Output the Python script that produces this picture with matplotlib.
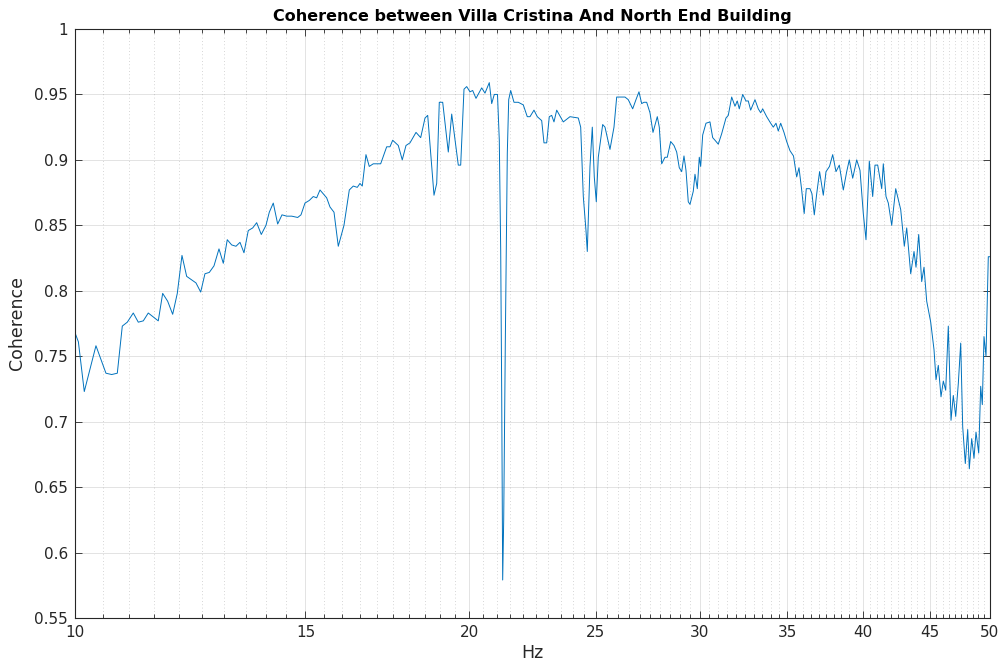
import numpy as np
import matplotlib
matplotlib.use("Agg")
import matplotlib.pyplot as plt
from matplotlib.ticker import FixedLocator, FixedFormatter, NullFormatter

# ---- data ----
freq_hz = [
    10.00, 10.06, 10.165, 10.376, 10.56, 10.667, 10.773, 10.868, 10.964, 11.08,
    11.178, 11.277, 11.376, 11.578, 11.668, 11.771, 11.875, 11.972, 12.071, 12.171,
    12.372, 12.475, 12.569, 12.665, 12.77, 12.883, 12.981, 13.072, 13.174, 13.274,
    13.368, 13.462, 13.564, 13.67, 13.766, 13.878, 13.993, 14.075, 14.174, 14.284,
    14.393, 14.512, 14.641, 14.796, 14.882, 14.987, 15.101, 15.207, 15.298, 15.388,
    15.57, 15.661, 15.772, 15.891, 16.051, 16.202, 16.316, 16.431, 16.509, 16.576,
    16.684, 16.781, 16.9, 17.121, 17.303, 17.404, 17.487, 17.66, 17.784, 17.901,
    18.027, 18.219, 18.37, 18.51, 18.598, 18.805, 18.895, 18.981, 19.095, 19.284,
    19.4, 19.626, 19.709, 19.824, 19.918, 20.034, 20.129, 20.247, 20.451, 20.57,
    20.726, 20.814, 20.909, 21.027, 21.094, 21.146, 21.183, 21.22, 21.258, 21.318,
    21.393, 21.446, 21.521, 21.646, 21.811, 22.003, 22.158, 22.264, 22.421, 22.552,
    22.727, 22.819, 22.928, 23.033, 23.13, 23.224, 23.335, 23.607, 23.887, 24.238,
    24.341, 24.453, 24.569, 24.625, 24.742, 24.843, 24.93, 25.018, 25.106, 25.301,
    25.404, 25.628, 25.809, 25.932, 26.115, 26.313, 26.466, 26.672, 26.827, 26.969,
    27.097, 27.207, 27.337, 27.496, 27.642, 27.852, 27.95, 28.068, 28.231, 28.346,
    28.516, 28.682, 28.818, 28.95, 29.073, 29.191, 29.294, 29.412, 29.501, 29.672,
    29.761, 29.882, 29.987, 30.061, 30.167, 30.343, 30.557, 30.702, 30.827, 31.006,
    31.192, 31.429, 31.556, 31.746, 31.93, 32.06, 32.173, 32.366, 32.554, 32.686,
    32.824, 33.074, 33.266, 33.407, 33.525, 33.762, 34.0, 34.156, 34.319, 34.458,
    34.604, 34.805, 34.971, 35.175, 35.392, 35.592, 35.736, 35.906, 36.064, 36.198,
    36.434, 36.563, 36.711, 36.866, 37.055, 37.297, 37.474, 37.706, 37.919, 38.14,
    38.362, 38.633, 38.865, 39.043, 39.277, 39.555, 39.785, 40.016, 40.207, 40.441,
    40.683, 40.848, 41.043, 41.333, 41.449, 41.647, 41.816, 42.067, 42.364, 42.738,
    43.01, 43.192, 43.497, 43.75, 43.904, 44.113, 44.346, 44.526, 44.738, 45.054,
    45.316, 45.476, 45.66, 45.878, 46.064, 46.258, 46.47, 46.692, 46.881, 47.079,
    47.295, 47.495, 47.662, 47.881, 48.083, 48.219, 48.423, 48.619, 48.79, 49.023,
    49.195, 49.334, 49.482, 49.656, 49.857, 50.0,
]
coherence = [
    0.768, 0.761, 0.723, 0.758, 0.737, 0.736, 0.737, 0.773, 0.776, 0.783,
    0.776, 0.777, 0.783, 0.777, 0.798, 0.792, 0.782, 0.798, 0.827, 0.811,
    0.806, 0.799, 0.813, 0.814, 0.819, 0.832, 0.821, 0.839, 0.835, 0.834,
    0.837, 0.829, 0.846, 0.848, 0.852, 0.843, 0.850, 0.860, 0.867, 0.851,
    0.858, 0.857, 0.857, 0.856, 0.858, 0.867, 0.869, 0.872, 0.871, 0.877,
    0.871, 0.864, 0.860, 0.834, 0.850, 0.877, 0.880, 0.879, 0.882, 0.880,
    0.904, 0.895, 0.897, 0.897, 0.910, 0.910, 0.915, 0.911, 0.900, 0.911,
    0.913, 0.921, 0.917, 0.932, 0.934, 0.873, 0.882, 0.944, 0.944, 0.906,
    0.935, 0.896, 0.896, 0.954, 0.956, 0.952, 0.953, 0.947, 0.955, 0.951,
    0.959, 0.943, 0.950, 0.950, 0.915, 0.831, 0.722, 0.579, 0.625, 0.760,
    0.905, 0.946, 0.953, 0.944, 0.944, 0.942, 0.933, 0.933, 0.938, 0.933,
    0.930, 0.913, 0.913, 0.933, 0.934, 0.929, 0.938, 0.929, 0.933, 0.932,
    0.925, 0.872, 0.846, 0.830, 0.895, 0.925, 0.887, 0.868, 0.902, 0.927,
    0.925, 0.908, 0.925, 0.948, 0.948, 0.948, 0.946, 0.939, 0.946, 0.952,
    0.943, 0.944, 0.944, 0.936, 0.921, 0.933, 0.925, 0.897, 0.902, 0.902,
    0.914, 0.911, 0.906, 0.894, 0.891, 0.903, 0.892, 0.868, 0.866, 0.876,
    0.889, 0.878, 0.902, 0.895, 0.919, 0.928, 0.929, 0.917, 0.915, 0.912,
    0.920, 0.932, 0.934, 0.948, 0.941, 0.945, 0.939, 0.950, 0.945, 0.945,
    0.938, 0.946, 0.939, 0.936, 0.939, 0.933, 0.928, 0.925, 0.928, 0.922,
    0.928, 0.921, 0.914, 0.907, 0.903, 0.887, 0.894, 0.877, 0.859, 0.878,
    0.878, 0.874, 0.858, 0.874, 0.891, 0.873, 0.891, 0.895, 0.904, 0.891,
    0.896, 0.877, 0.891, 0.900, 0.886, 0.900, 0.892, 0.859, 0.839, 0.899,
    0.872, 0.896, 0.896, 0.878, 0.897, 0.872, 0.867, 0.850, 0.878, 0.862,
    0.834, 0.848, 0.813, 0.830, 0.818, 0.843, 0.807, 0.818, 0.792, 0.776,
    0.755, 0.732, 0.743, 0.719, 0.731, 0.724, 0.773, 0.701, 0.720, 0.704,
    0.729, 0.760, 0.696, 0.668, 0.694, 0.664, 0.687, 0.672, 0.692, 0.676,
    0.727, 0.713, 0.765, 0.750, 0.826, 0.826,
]
x_major_ticks = [10, 15, 20, 25, 30, 35, 40, 45, 50]
x_tick_labels = ["10", "15", "20", "25", "30", "35", "40", "45", "50"]
y_major_ticks = [0.55, 0.6, 0.65, 0.7, 0.75, 0.8, 0.85, 0.9, 0.95, 1.0]
y_tick_labels = ["0.55", "0.6", "0.65", "0.7", "0.75", "0.8", "0.85", "0.9", "0.95", "1"]
title_text = "Coherence between Villa Cristina And North End Building"
x_label = "Hz"
y_label = "Coherence"

# ---- figure ----
plt.rcParams['font.family'] = ['DejaVu Sans']
fig = plt.figure(figsize=(10.05, 6.68), dpi=100)
ax = fig.add_axes([0.0746, 0.0749, 0.9104, 0.8817])

axis_col = "#262626"
ax.plot(freq_hz, coherence, color="#0072BD", lw=0.7)

ax.set_xscale("log")
ax.set_xlim(10, 50)
ax.set_ylim(0.55, 1.0)

ax.xaxis.set_major_locator(FixedLocator(x_major_ticks))
ax.xaxis.set_major_formatter(FixedFormatter(x_tick_labels))
minor = [v for v in np.arange(10, 50.001, 0.5) if v not in x_major_ticks]
ax.xaxis.set_minor_locator(FixedLocator(minor))
ax.xaxis.set_minor_formatter(NullFormatter())
ax.yaxis.set_major_locator(FixedLocator(y_major_ticks))
ax.yaxis.set_major_formatter(FixedFormatter(y_tick_labels))

ax.grid(True, which="major", color="#262626", alpha=0.15, lw=0.6, ls="-")
ax.grid(True, which="minor", axis="x", color="#262626", alpha=0.25, lw=0.6, ls=(0, (1, 3)))
ax.set_axisbelow(True)

ax.tick_params(which="both", direction="in", top=True, right=True,
               colors=axis_col, labelcolor=axis_col, width=0.6)
ax.tick_params(which="major", length=5, labelsize=11, pad=5)
ax.tick_params(which="minor", length=3)
for s in ax.spines.values():
    s.set_color(axis_col)
    s.set_linewidth(0.8)

ax.set_title(title_text, fontsize=11.5, fontweight="bold", color="black", pad=6)
ax.set_xlabel(x_label, fontsize=12.5, color=axis_col, labelpad=3)
ax.set_ylabel(y_label, fontsize=12.5, color=axis_col, labelpad=6)

fig.savefig("out.png", dpi=100)
